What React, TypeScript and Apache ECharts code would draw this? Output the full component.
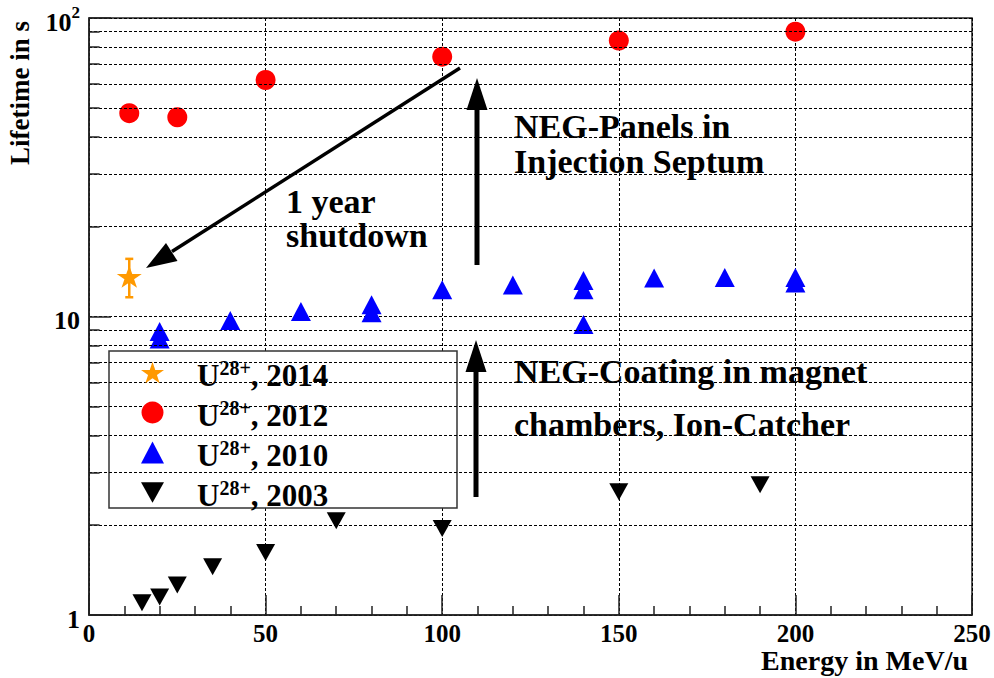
import React, { useEffect, useRef } from 'react';
import * as echarts from 'echarts';

const SERIF = '"Liberation Serif", "Times New Roman", serif';

// Beam lifetime of U28+ versus energy, one list per campaign
const energy2014 = [11.4];
const lifetime2014 = [13.6];
const lifetime2014Low = [11.6];
const lifetime2014High = [15.6];

const energy2012 = [11.4, 25, 50, 100, 150, 200];
const lifetime2012 = [48, 46.5, 62, 74.2, 84, 90];

const energy2010 = [20, 20, 40, 60, 80, 80, 100, 120, 140, 140, 140, 160, 180, 200, 200];
const lifetime2010 = [8.9, 8.4, 9.7, 10.4, 10.95, 10.3, 12.3, 12.75, 13.2, 12.3, 9.4, 13.45, 13.5, 13.5, 12.95];

const energy2003 = [15, 20, 25, 35, 50, 70, 100, 150, 190];
const lifetime2003 = [1.1, 1.15, 1.26, 1.45, 1.62, 2.07, 1.95, 2.59, 2.73];

const seriesNames = ['U28+, 2014', 'U28+, 2012', 'U28+, 2010', 'U28+, 2003'];
const seriesColors = ['#ff9900', '#ff0000', '#0000ff', '#000000'];

// log-decade subdivisions drawn as dotted grid lines and short inner ticks
const minorLifetimes = [2, 3, 4, 5, 6, 7, 8, 9, 20, 30, 40, 50, 60, 70, 80, 90];

const STAR = 'path://M50,0 L61.8,35.1 L98.9,35.1 L68.9,56.8 L80.3,91.9 L50,70.3 L19.7,91.9 L31.1,56.8 L1.1,35.1 L38.2,35.1 Z';
const DOWN_TRIANGLE = 'path://M0,0 L20,0 L10,18 Z';

const zip = (xs: number[], ys: number[]) => xs.map((x, i) => [x, ys[i]]);

const dotted = { color: '#000', width: 1, type: [3, 2] as number[] };

const annotation = (x: number, y: number, text: string, fontSize: number, lineHeight: number, extra: any = {}) => ({
  type: 'text',
  z: 7,
  x,
  y,
  ...extra,
  style: {
    text,
    fontFamily: SERIF,
    fontWeight: 'bold',
    fontSize,
    lineHeight,
    fill: '#000',
    align: extra.align || 'left',
    verticalAlign: 'middle',
  },
});

export default function App() {
  const ref = useRef<HTMLDivElement>(null);

  useEffect(() => {
    document.body.style.margin = '0';
    const chart = echarts.init(ref.current!, undefined, { renderer: 'svg' });

    const errorData = energy2014.map((e, i) => [e, lifetime2014Low[i], lifetime2014High[i]]);

    const option: any = {
      animation: false,
      backgroundColor: '#fff',
      grid: {
        left: 89,
        right: 22,
        top: 18,
        bottom: 63,
        show: true,
        borderColor: '#222',
        borderWidth: 1.5,
        backgroundColor: 'transparent',
        outerBoundsMode: 'none',
      },
      xAxis: {
        type: 'value',
        min: 0,
        max: 250,
        interval: 50,
        axisLine: { show: true, lineStyle: { color: '#222', width: 1.5 } },
        axisTick: { show: true, inside: true, length: 20, lineStyle: { color: '#222', width: 1.5 } },
        minorTick: { show: true, splitNumber: 5, length: 9, lineStyle: { color: '#222', width: 1.5 } },
        splitLine: { show: true, lineStyle: dotted },
        axisLabel: {
          margin: 6,
          fontFamily: SERIF,
          fontWeight: 'bold',
          fontSize: 25,
          lineHeight: 25,
          color: '#000',
        },
      },
      yAxis: {
        type: 'log',
        logBase: 10,
        min: 1,
        max: 100,
        axisLine: { show: true, lineStyle: { color: '#222', width: 1.5 } },
        axisTick: { show: true, inside: true, length: 22, lineStyle: { color: '#222', width: 1.5 } },
        splitLine: { show: true, lineStyle: dotted },
        axisLabel: {
          margin: 9,
          color: '#000',
          formatter: (v: number) => (v >= 100 ? '{b|10}{p|2}' : `{b|${Math.round(v)}}`),
          rich: {
            b: { fontFamily: SERIF, fontWeight: 'bold', fontSize: 26, color: '#000', lineHeight: 28, padding: [8, 0, 0, 0] },
            p: { fontFamily: SERIF, fontWeight: 'bold', fontSize: 17, color: '#000', lineHeight: 18, verticalAlign: 'top' },
          },
        },
      },
      legend: {
        orient: 'vertical',
        left: 141,
        top: 354,
        itemWidth: 23,
        itemHeight: 22,
        itemGap: 3,
        padding: 0,
        z: 6,
        data: seriesNames,
        formatter: (name: string) => {
          const year = name.split(', ')[1];
          return `{u|U}{s|28+}{u|, ${year}}`;
        },
        textStyle: {
          padding: [0, 0, 0, 28],
          rich: {
            u: { fontFamily: SERIF, fontWeight: 'bold', fontSize: 31, color: '#000', lineHeight: 30, padding: [6, 0, 0, 0] },
            s: { fontFamily: SERIF, fontWeight: 'bold', fontSize: 20, color: '#000', lineHeight: 20, verticalAlign: 'top' },
          },
        },
      },
      graphic: [
        // legend frame
        {
          type: 'rect',
          z: 5,
          shape: { x: 109, y: 351, width: 348, height: 157 },
          style: { fill: '#fff', stroke: '#333', lineWidth: 1.5 },
        },
        // "1 year shutdown" arrow
        {
          type: 'line',
          z: 7,
          shape: { x1: 460, y1: 68, x2: 172, y2: 251.5 },
          style: { stroke: '#000', lineWidth: 3.5 },
        },
        {
          type: 'polygon',
          z: 7,
          shape: { points: [[146, 268], [177.5, 261], [166, 243]] },
          style: { fill: '#000' },
        },
        // upper vertical arrow
        {
          type: 'rect',
          z: 7,
          shape: { x: 474.5, y: 106, width: 5, height: 159 },
          style: { fill: '#000' },
        },
        {
          type: 'polygon',
          z: 7,
          shape: { points: [[477, 78], [487.5, 110], [466.5, 110]] },
          style: { fill: '#000' },
        },
        // lower vertical arrow
        {
          type: 'rect',
          z: 7,
          shape: { x: 473.5, y: 368, width: 5, height: 129 },
          style: { fill: '#000' },
        },
        {
          type: 'polygon',
          z: 7,
          shape: { points: [[476, 340], [486.5, 372], [465.5, 372]] },
          style: { fill: '#000' },
        },
        annotation(514, 143.5, 'NEG-Panels in\nInjection Septum', 34, 35),
        annotation(514, 397.5, 'NEG-Coating in magnet\nchambers, Ion-Catcher', 34, 53),
        annotation(286, 201, '1 year', 34, 34),
        annotation(286, 235, 'shutdown', 34, 34),
        // axis titles
        annotation(20, 93, 'Lifetime in s', 27, 30, { rotation: Math.PI / 2, align: 'center' }),
        annotation(968, 660, 'Energy in MeV/u', 28, 22, { align: 'right' }),
      ],
      series: [
        {
          name: 'minor-grid',
          type: 'scatter',
          data: [],
          silent: true,
          z: 1,
          markLine: {
            silent: true,
            symbol: ['none', 'none'],
            label: { show: false },
            emphasis: { disabled: true },
            lineStyle: dotted,
            data: [
              ...minorLifetimes.map((v) => ({ yAxis: v, lineStyle: dotted })),
              ...minorLifetimes.map((v) => [
                { coord: [0, v], lineStyle: { color: '#222', width: 1.5, type: 'solid' } },
                { coord: [3, v] },
              ]),
            ],
          },
        },
        {
          name: 'err-2014',
          type: 'custom',
          z: 3,
          silent: true,
          data: errorData,
          encode: { x: 0, y: [1, 2] },
          renderItem: (params: any, api: any) => {
            const x = api.value(0);
            const lo = api.coord([x, api.value(1)]);
            const hi = api.coord([x, api.value(2)]);
            const st = { stroke: seriesColors[0], lineWidth: 2.5 };
            return {
              type: 'group',
              children: [
                { type: 'line', shape: { x1: lo[0], y1: lo[1], x2: hi[0], y2: hi[1] }, style: st },
                { type: 'line', shape: { x1: lo[0] - 4, y1: lo[1], x2: lo[0] + 4, y2: lo[1] }, style: st },
                { type: 'line', shape: { x1: hi[0] - 4, y1: hi[1], x2: hi[0] + 4, y2: hi[1] }, style: st },
              ],
            };
          },
        },
        {
          name: seriesNames[0],
          type: 'scatter',
          z: 4,
          symbol: STAR,
          symbolSize: [25, 22],
          itemStyle: { color: seriesColors[0], opacity: 1 },
          data: zip(energy2014, lifetime2014),
        },
        {
          name: seriesNames[1],
          type: 'scatter',
          z: 4,
          symbol: 'circle',
          symbolSize: 20,
          itemStyle: { color: seriesColors[1], opacity: 1 },
          data: zip(energy2012, lifetime2012),
        },
        {
          name: seriesNames[2],
          type: 'scatter',
          z: 4,
          symbol: 'triangle',
          symbolSize: [20, 19],
          itemStyle: { color: seriesColors[2], opacity: 1 },
          data: zip(energy2010, lifetime2010),
        },
        {
          name: seriesNames[3],
          type: 'scatter',
          z: 4,
          symbol: DOWN_TRIANGLE,
          symbolSize: [19, 17],
          itemStyle: { color: seriesColors[3], opacity: 1 },
          data: zip(energy2003, lifetime2003),
        },
      ],
    };

    chart.setOption(option);
    return () => chart.dispose();
  }, []);

  return (
    <div
      ref={ref}
      style={{ position: 'absolute', left: 0, top: 0, width: 994, height: 678, background: '#fff' }}
    />
  );
}
